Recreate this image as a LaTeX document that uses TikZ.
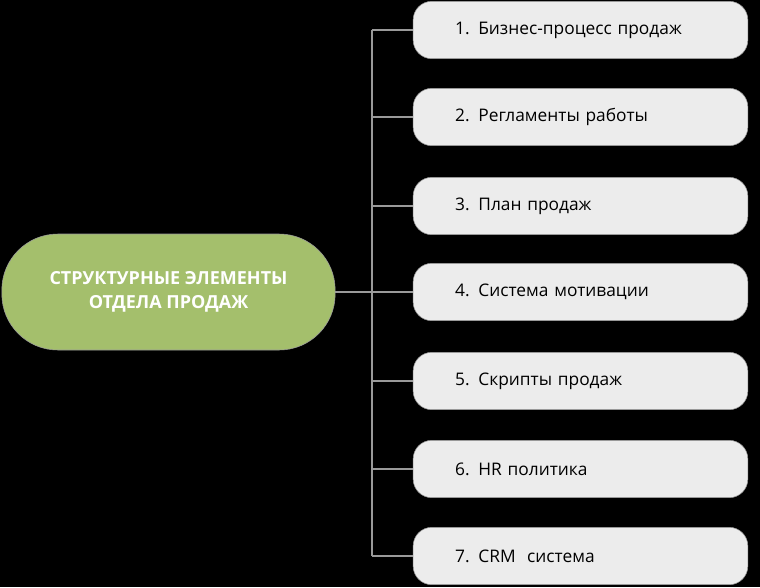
\documentclass[tikz,border=0pt]{standalone}
\usepackage{fontspec}
\setmainfont{Open Sans}
\definecolor{bgblack}{HTML}{000000}
\definecolor{leafgreen}{HTML}{A4BF6C}
\definecolor{boxgray}{HTML}{ECECEC}
\definecolor{linegray}{HTML}{9A9A9A}
\tikzset{
  itembox/.style={draw=linegray, fill=boxgray, rounded corners=14pt, minimum width=251pt,
    minimum height=43pt, inner xsep=31.5pt, text width=188pt, align=left,
    font=\fontsize{13}{15}\selectfont},
  hubbox/.style={draw=linegray, fill=leafgreen, rounded corners=42pt, minimum width=250pt,
    minimum height=87pt, align=center, text=white, font=\bfseries\fontsize{13.5}{18}\selectfont},
  branch/.style={draw=linegray, line width=1.2pt}
}
\begin{document}
\begin{tikzpicture}[x=0.75pt,y=-0.75pt]
\fill[bgblack] (0,0) rectangle (760,587);
\useasboundingbox (0,0) rectangle (760,587);
\node[hubbox] (hub) at (168.5,292) {СТРУКТУРНЫЕ ЭЛЕМЕНТЫ\\ОТДЕЛА ПРОДАЖ};
\foreach \n/\y/\txt in {1/30/{1. Бизнес-процесс продаж},2/117/{2. Регламенты работы},
  3/206/{3. План продаж},4/292/{4. Система мотивации},5/381/{5. Скрипты продаж},
  6/469/{6. HR политика},7/556/{7. CRM\ \ система}}{
  \node[itembox] (item\n) at (580.5,\y) {\txt};
  \coordinate (tap\n) at (372,\y);
  \draw[branch] (tap\n) -- (item\n.west);
}
\draw[branch] (tap1) -- (tap7);
\draw[branch] (hub.east) -- (tap4);
\end{tikzpicture}
\end{document}
